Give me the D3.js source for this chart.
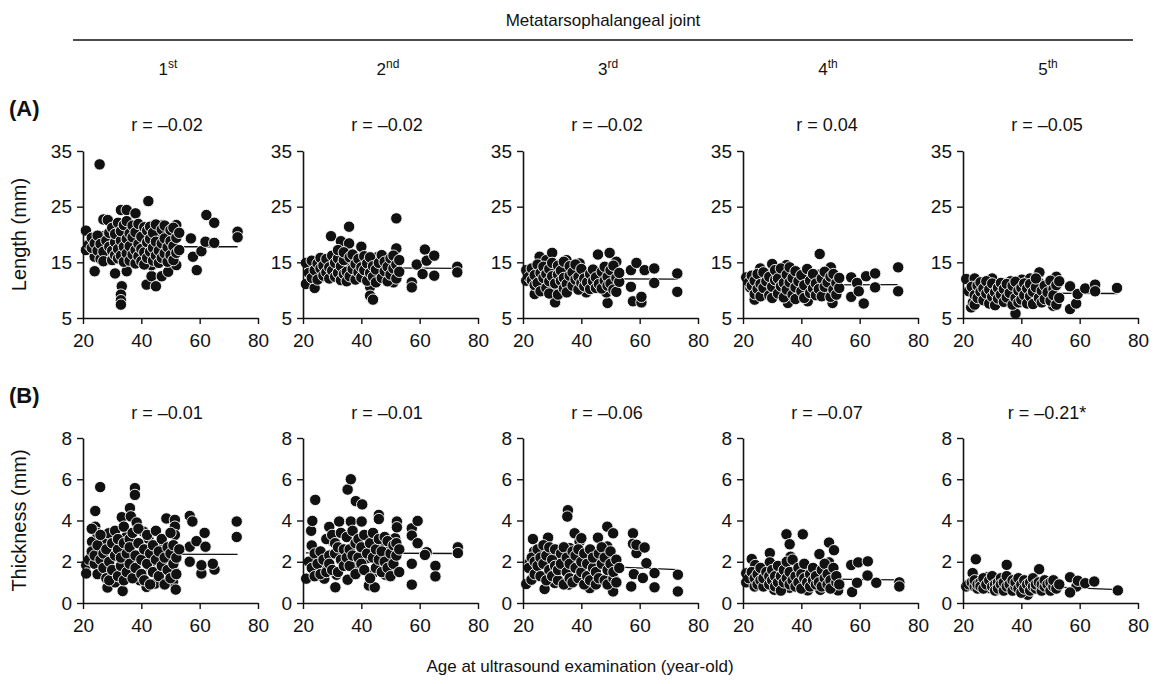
<!DOCTYPE html>
<html>
<head>
<meta charset="utf-8">
<script src="https://cdn.jsdelivr.net/npm/d3@7"></script>
<style>
  html, body { margin: 0; padding: 0; background: #fff; }
  svg { display: block; font-family: "Liberation Sans", Arial, sans-serif; }
  .axis path, .axis line { stroke: #111; }
  .axis text { fill: #111; }
</style>
</head>
<body>
<svg id="chart" width="1161" height="684"></svg>
<script>
// ---- Data: [age (years), value (mm)] per metatarsophalangeal joint ----
const lengthMTP1 = [
  [21,20.7],[21,17.2],[25.7,32.6],[24,13.4],[24,16],[27,22.7],[27,19.7],[28,17],[28.5,22.6],[31,13],
  [30.5,19],[33,24.4],[33.6,21.4],[33.3,10.7],[33,9.2],[33,8.2],[33,7.4],[35,24.4],[36,21],[35,13.4],
  [37,17.8],[38,23.8],[38.4,15.4],[40.7,20.8],[42,17.2],[42.4,26],[41.8,11],[43.5,12.5],[43.5,14.5],[45,10.7],
  [46.4,19.6],[47,12.5],[47.5,21.7],[48.6,16],[49.2,13.3],[49.8,19.6],[51.5,17.3],[52,21.7],[52,14.5],[57,19.3],
  [57.7,16],[59,13.6],[60.6,17],[62,18.7],[62.3,23.5],[65,22.1],[65,18.5],[73,20.5],[73,19.5],
  [22,18.2],[23,17.6],[23,19.4],[24,18.4],[25,17.1],[25,19.8],[26,15.6],[26,18.3],
  [27,16.9],[27,15.2],[28,18.9],[29,17.8],[29,20.3],[30,15.4],[30,17.1],[30,21.2],[31,16.3],
  [31,18.6],[31,20.1],[32,15.7],[32,17.4],[32,22.1],[33,16.2],[33,18.9],[33,20.6],[34,15.1],[34,17.8],
  [34,21.7],[35,16.6],[35,19.2],[35,22.4],[36,15.3],[36,17.9],[36,20.2],[37,16.4],[37,19.5],[37,21.6],
  [38,14.8],[38,17.2],[38,20.4],[39,16.1],[39,18.3],[39,21.9],[40,15.2],[40,17.4],[40,19.6],[41,14.6],
  [41,16.8],[41,21.3],[42,15.8],[42,18.6],[42,20.7],[43,16.9],[43,19.2],[43,21.4],[44,15.3],[44,17.6],
  [44,20.3],[45,16.2],[45,18.7],[45,21.8],[46,14.9],[46,17.1],[47,15.8],[47,18.4],[47,20.9],[48,16.6],
  [48,19.3],[48,21.6],[49,15.1],[49,17.7],[50,16.3],[50,18.8],[50,20.8],[51,15.4],[51,17.9],[51,21.2],
  [52,16.7],[52,19.4],[53,17.2],[53,20.3]
];
const lengthMTP2 = [
  [21,14.9],[21,11.1],[24,10.4],[26,12.3],[29.6,19.7],[33,18.8],[35.8,21.4],[35.8,18.4],[40,17.8],[35.8,14.4],
  [38,12.9],[43,10.6],[43,9],[44,8.3],[52,22.9],[52,17.5],[51,11.4],[57.3,11.4],[57.3,10.5],[59,14.6],
  [61.8,17.3],[62.4,15.3],[61,12.9],[65,16.2],[65,12.6],[72.9,14.2],[72.9,13.2],[45.4,15.9],[46,12.9],
  [22,13.1],[23,12.2],[23,15.3],[24,13.6],[25,11.9],[25,14.8],[26,13.9],[26,15.8],[27,12.6],
  [27,14.4],[28,13.2],[28,15.6],[29,12.1],[29,14.1],[30,13.5],[30,16.2],[31,12.4],[31,14.9],[32,13.1],
  [32,15.7],[32,17.2],[33,11.8],[33,14.3],[34,12.9],[34,15.4],[34,16.8],[35,13.3],[35,11.6],[36,12.5],
  [36,15.9],[37,13.8],[37,16.4],[38,11.9],[38,14.7],[39,13.2],[39,15.6],[40,12.3],[40,14.1],[41,13.6],
  [41,16.1],[42,11.7],[42,14.8],[43,13.1],[43,15.9],[44,12.4],[44,14.3],[45,13.7],[45,11.4],[46,14.9],
  [47,12.2],[47,16.3],[48,13.4],[48,15.1],[49,11.6],[49,14.2],[50,12.8],[50,15.7],[51,13.9],[51,16.2],
  [52,12.1],[52,14.6],[53,13.3],[53,15.4]
];
const lengthMTP3 = [
  [21.1,13.6],[21.1,11.7],[24,9.3],[25.7,16],[28,15.4],[30,16.7],[31,13],[31,10.1],[31,7.8],[34.9,15.4],
  [35.7,13],[39.4,14.8],[41.7,13.1],[41.7,9.6],[45.7,16.4],[45.7,12.8],[49,7.7],[48.6,9.6],[49.7,16.7],[50.9,12.9],
  [52,15.1],[57,13.6],[57,10.6],[58.9,14.9],[57.7,8],[60.6,7.8],[60.6,8.8],[61.7,13.6],[65,13.9],[65,11.3],
  [72.9,13],[72.9,9.7],
  [22,12.4],[23,11.8],[23,13.9],[24,10.9],[24,12.7],[25,14.6],[25,11.3],[26,13.1],[26,9.8],
  [27,12.2],[27,14.2],[28,10.4],[28,12.9],[29,11.6],[29,13.8],[29,9.4],[30,12.5],[30,14.9],[31,11.2],
  [32,12.8],[32,14.4],[32,9.2],[33,11.7],[33,13.5],[34,10.3],[34,12.2],[34,15.1],[35,11.1],[35,9.6],
  [36,12.6],[36,14.3],[37,10.8],[37,13.2],[38,11.9],[38,14.6],[39,10.1],[39,12.4],[40,11.3],[40,13.8],
  [41,10.7],[41,12.1],[42,11.4],[43,10.2],[43,12.9],[44,11.6],[44,13.7],[45,10.4],[45,12.3],[46,11.1],
  [47,10.3],[47,13.3],[48,11.7],[48,14.2],[49,12.4],[49,10.8],[50,13.6],[50,11.2],[51,10.1],[51,14.4],
  [52,12.2],[52,9.7],[53,11.5],[53,13.1]
];
const lengthMTP4 = [
  [21.1,12.3],[22.5,10.5],[24,8.3],[25.9,13.9],[28.1,12.9],[30,14.7],[28,9.8],[34.9,14.5],[35.4,7.7],[36.3,12.9],
  [36.3,9.6],[42.2,12.6],[42.2,11],[42.2,8],[46.3,16.5],[46.2,12.8],[50.1,14.1],[49.5,9.6],[50.7,7.7],[57.1,12.3],
  [57.1,8.8],[59.1,11.3],[59.7,9.8],[61.4,7.6],[62.2,12.5],[65.3,13],[65.3,10.5],[73.2,14.1],[73.2,9.8],
  [22,11.4],[23,10.8],[23,12.6],[24,9.3],[24,11.7],[25,10.2],[25,12.9],[26,8.9],[26,11.1],
  [27,10.4],[27,13.2],[28,11.6],[29,9.1],[29,12.4],[30,10.6],[30,8.6],[31,11.8],[31,13.6],[32,9.4],
  [32,12.1],[33,10.7],[33,13.9],[34,8.7],[34,11.3],[35,10.1],[35,12.8],[36,11.4],[36,14.1],[37,9.2],
  [37,12.2],[38,10.5],[38,13.4],[38,8.4],[39,11.6],[40,9.8],[40,12.7],[41,10.9],[41,8.6],[42,13.8],
  [43,9.5],[43,11.7],[44,10.3],[44,12.9],[45,9.1],[45,11.2],[46,10.2],[47,8.9],[47,12.1],[48,10.6],
  [48,13.3],[49,11.4],[50,8.8],[50,12.4],[51,10.1],[51,12.9],[52,11.3],[52,9.2],[53,10.4],[53,12.2]
];
const lengthMTP5 = [
  [21.1,12],[24,12.1],[22.8,6.9],[23.4,7.8],[27.9,10.9],[30,12.1],[29.6,8.9],[36.3,11.6],[36.3,7.8],[38,5.8],
  [40.2,11.9],[41.9,9.8],[43,12.1],[46.2,13.2],[46.2,11.3],[49.2,11.1],[49.2,8.9],[52,12.4],[50.9,7.2],[56.7,10.7],
  [56.7,6.6],[58.8,7.6],[59.3,9.3],[61.9,10.3],[65.3,11],[65.3,9.8],[72.8,10.4],
  [22,9.8],[23,10.6],[24,9.1],[24,7.4],[25,10.8],[25,8.6],[26,9.7],[26,11.4],[27,8.2],
  [27,10.3],[28,9.4],[28,11.6],[29,7.6],[29,10.1],[30,8.8],[30,11.2],[31,9.6],[31,7.3],[32,10.4],
  [32,8.5],[33,9.2],[33,11.3],[34,7.9],[34,10.2],[35,8.7],[35,11.1],[36,9.5],[37,7.4],[37,10.8],
  [38,8.6],[38,11.5],[39,9.9],[39,7.8],[40,10.4],[40,8.3],[41,9.1],[41,11.2],[42,7.6],[42,10.3],
  [43,8.9],[43,11.1],[44,9.7],[44,7.5],[45,10.5],[45,12.1],[46,8.6],[47,9.9],[47,7.8],[48,10.8],
  [48,8.4],[49,9.6],[50,11.7],[50,8.1],[51,10.2],[51,9.1],[52,7.4],[52,10.9],[53,8.6],[53,11.6]
];

const thicknessMTP1 = [
  [21.1,1.83],[21.1,1.43],[23.1,2.97],[24.2,4.46],[24.2,3.7],[25.9,5.62],[24.8,3.4],[27,2.9],[28.2,1.92],[28.4,0.75],
  [28.8,3.38],[31.6,1.5],[31,1.0],[33.3,4.16],[33.6,0.58],[34.8,3.2],[36.1,4.6],[36.4,4.2],[37.3,2.08],[37.8,5.57],
  [37.8,5.24],[38.4,3.9],[37.3,1.46],[39.5,1.1],[40.7,3.46],[41.8,0.78],[42.4,3.12],[43,1.75],[44.7,0.94],[45.8,2.73],
  [48.6,4.1],[51.5,4.03],[51.5,3.7],[51.5,3.3],[50.9,1.02],[51.8,0.65],[51.5,1.5],[56.6,4.22],[57.5,3.95],[56.6,2.73],
  [56.6,2.0],[58.9,3.0],[60.6,1.43],[61.7,3.4],[62,2.73],[60.6,1.83],[65.1,1.62],[64.5,1.9],[72.7,3.95],[72.7,3.2],
  [22,2.1],[23,2.5],[23,3.6],[24,1.9],[24,2.3],[25,1.4],[25,2.8],[26,2.1],[26,3.3],
  [27,1.7],[27,2.4],[28,1.2],[28,2.6],[29,2.0],[29,1.1],[30,2.9],[30,1.6],[31,2.3],[31,3.5],
  [32,1.3],[32,2.6],[32,3.1],[33,1.8],[33,2.2],[34,2.9],[34,1.1],[34,3.7],[35,2.4],[35,1.5],
  [36,3.1],[36,1.9],[36,2.7],[37,1.2],[37,3.4],[38,2.3],[38,1.7],[39,2.9],[39,3.6],[40,1.4],
  [40,2.1],[41,2.6],[41,1.1],[42,1.9],[42,3.3],[43,2.4],[43,0.9],[44,1.5],[44,2.8],[45,2.1],
  [45,3.5],[46,1.3],[46,2.5],[47,1.8],[47,3.1],[48,0.9],[48,2.2],[49,1.6],[49,2.7],[50,1.2],
  [50,3.4],[50,2.4],[51,1.9],[51,2.8],[52,2.2],[52,1.4],[53,2.6]
];
const thicknessMTP2 = [
  [21.1,1.18],[22.8,3.5],[23.2,3.98],[24.2,5.0],[23,2.79],[23.4,1.6],[27.3,1.18],[28.1,1.82],[29,3.69],[30.2,2.98],
  [31.1,0.76],[31.5,1.37],[32.4,3.95],[35.3,5.5],[36.4,6.0],[35.3,1.13],[36.4,3.95],[38.1,4.94],[40.3,4.78],[40.1,3.95],
  [38.6,1.85],[42,2.17],[42.6,0.85],[44,1.45],[44.6,0.76],[46,4.27],[46,4.07],[46.2,2.9],[48.2,1.37],[49.2,2.5],
  [50.3,1.6],[51.6,3.14],[52.2,3.95],[52.2,3.67],[57.3,3.62],[57.3,3.27],[57.3,1.9],[57.3,0.89],[59.3,3.98],[59.3,2.9],
  [62.4,2.46],[61.8,2.33],[65.4,1.8],[65.4,1.29],[73.1,2.7],[73.1,2.42],
  [22,2.0],[23,1.7],[24,2.4],[24,1.3],[25,1.9],[26,2.5],[26,1.4],[27,2.1],[28,3.1],[28,1.5],
  [29,2.3],[29,1.9],[30,3.3],[30,1.6],[31,2.4],[31,2.9],[32,1.5],[32,2.7],[33,2.1],[33,3.4],
  [34,1.8],[34,2.6],[35,3.2],[35,2.2],[36,2.6],[36,1.8],[37,3.5],[37,2.3],[38,2.9],[38,1.4],
  [39,3.1],[39,2.2],[40,1.9],[40,2.7],[41,3.3],[41,1.6],[42,2.4],[43,1.2],[43,2.9],[44,2.2],
  [44,3.4],[45,1.7],[45,2.6],[46,2.1],[46,3.1],[47,1.5],[47,2.5],[48,3.2],[48,2.0],[49,1.7],
  [49,3.0],[50,2.4],[50,1.3],[51,2.8],[51,1.9],[52,2.3],[52,2.9],[53,2.6],[53,1.5]
];
const thicknessMTP3 = [
  [21.1,0.92],[22.3,1.96],[23.4,3.1],[23.8,2.5],[22.9,1.13],[27.4,0.68],[28.6,3.17],[30.9,0.97],[32,2.33],[35.4,4.5],
  [35.2,4.19],[36,2.66],[35.7,0.89],[37.7,3.38],[39.4,2.98],[40,3.14],[41.7,1.45],[42.9,0.72],[45.7,3.17],[48.9,3.7],
  [48.9,2.74],[50.9,3.38],[50,0.89],[50.9,0.56],[52,1.88],[57.7,3.38],[57.7,2.87],[57.1,0.8],[58.9,2.42],[58.9,2.82],
  [58,1.4],[61.7,2.69],[61.1,1.21],[62.3,1.93],[65.1,1.45],[65.1,0.76],[73.1,1.37],[73.1,0.56],
  [22,1.7],[23,2.2],[24,1.4],[24,2.0],[25,1.8],[25,2.6],[26,1.3],[26,2.2],[27,1.9],[27,2.8],
  [28,1.1],[28,2.3],[29,1.6],[29,2.7],[30,2.1],[30,1.3],[31,1.8],[31,2.6],[32,1.1],[32,1.6],
  [33,2.4],[33,1.9],[34,0.9],[34,2.7],[35,1.5],[35,2.2],[36,1.2],[36,1.9],[37,2.5],[37,1.0],
  [38,1.7],[38,2.3],[39,1.2],[39,2.6],[40,1.5],[40,2.0],[41,0.9],[41,2.4],[42,1.3],[42,1.9],
  [43,2.6],[43,1.1],[44,1.7],[44,2.2],[45,0.9],[45,1.5],[46,2.4],[46,1.2],[47,1.9],[47,2.7],
  [48,1.1],[48,2.2],[49,1.6],[49,0.9],[50,1.9],[50,2.5],[51,1.2],[51,1.5],[52,2.1],[52,1.0],[53,1.7]
];
const thicknessMTP4 = [
  [21.1,1.44],[21.1,1.0],[23,2.13],[24.2,1.84],[27,1.41],[29.2,2.42],[29.2,1.97],[28.1,1.0],[30.7,0.64],[34.9,3.33],
  [36,2.85],[36.3,2.24],[36,0.74],[37.7,1.41],[40.5,3.33],[42.2,1.65],[42.2,0.61],[46.2,2.37],[46.5,0.64],[46.5,1.36],
  [49.5,2.93],[51.2,2.56],[51.2,1.25],[49.5,1.97],[52.6,0.61],[57.1,1.84],[57.4,0.53],[59.5,1.97],[59.1,0.98],[62.8,2.02],
  [62.7,1.33],[65.7,0.98],[73.6,1.0],[73.6,0.8],
  [22,1.2],[23,1.5],[24,0.8],[24,1.2],[25,1.4],[25,0.9],[26,1.1],[26,1.7],[27,0.8],
  [27,1.2],[28,1.5],[29,0.9],[29,1.3],[30,1.1],[30,1.6],[31,0.8],[31,1.3],[32,1.0],[32,1.8],
  [33,1.3],[33,0.6],[34,1.0],[34,1.6],[35,2.0],[35,1.2],[36,0.9],[36,1.5],[37,1.1],[37,2.1],
  [38,0.8],[38,1.3],[39,1.7],[39,1.0],[40,1.4],[40,0.7],[41,1.2],[41,1.9],[42,1.0],[43,1.4],
  [43,0.8],[44,1.1],[44,1.7],[45,0.9],[45,1.3],[46,1.0],[47,1.6],[47,0.8],[48,1.2],[48,1.9],
  [49,0.9],[49,1.4],[50,1.1],[50,0.7],[51,1.7],[52,1.0],[52,1.3],[53,0.9]
];
const thicknessMTP5 = [
  [21.1,0.8],[23.3,1.45],[24.4,2.12],[28.3,1.25],[28.9,0.72],[35,1.85],[36.1,1.12],[36.1,0.77],[42.2,0.4],[42.6,0.8],
  [46.1,1.64],[48.9,0.72],[56.7,1.25],[58.9,0.8],[59.4,1.08],[56.7,0.51],[61.9,0.96],[65,1.04],[73.1,0.61],
  [22,0.9],[23,1.0],[24,0.8],[24,1.1],[25,0.7],[25,0.9],[26,1.0],[26,0.8],[27,1.2],[27,0.7],
  [28,0.9],[29,1.1],[30,0.8],[30,1.3],[31,0.9],[31,0.6],[32,1.0],[32,0.7],[33,1.2],[33,0.9],
  [34,0.6],[34,1.0],[35,0.8],[35,1.3],[36,0.9],[37,1.1],[37,0.6],[38,0.8],[38,1.0],[39,0.7],
  [39,1.2],[40,0.9],[40,0.5],[41,1.1],[41,0.7],[42,0.9],[43,0.6],[43,1.0],[44,0.8],[44,1.2],
  [45,0.7],[45,0.9],[46,1.0],[47,0.6],[47,0.9],[48,0.8],[48,1.1],[49,0.9],[50,0.6],[50,1.0],
  [51,0.8],[51,1.1],[52,0.7],[53,0.9]
];

// Fitted regression lines: value at the youngest and oldest age
const fitAges = [21, 73];
const fitLength = [[17.8,17.8],[14.1,13.9],[12.1,12.0],[10.9,11.0],[9.5,9.4]];
const fitThickness = [[2.37,2.36],[2.43,2.40],[1.93,1.62],[1.20,1.12],[0.96,0.65]];

// Correlation labels
const rLength = ["r = \u20130.02","r = \u20130.02","r = \u20130.02","r = 0.04","r = \u20130.05"];
const rThickness = ["r = \u20130.01","r = \u20130.01","r = \u20130.06","r = \u20130.07","r = \u20130.21*"];

// Column headers (joint number + ordinal suffix)
const joints = [["1","st"],["2","nd"],["3","rd"],["4","th"],["5","th"]];

// Axis ticks
const ageTicks = [20, 40, 60, 80];
const lengthTicks = [5, 15, 25, 35];
const thicknessTicks = [0, 2, 4, 6, 8];

// ---- Layout ----
const svg = d3.select("#chart");
const ink = "#111";
const panelLeft = i => 83 + i * 220;
const panelWidth = 175;

const rows = [
  { series: [lengthMTP1, lengthMTP2, lengthMTP3, lengthMTP4, lengthMTP5], fits: fitLength, rs: rLength,
    domain: [5, 35], ticks: lengthTicks, top: 151, bottom: 318, title: "Length (mm)", tag: "(A)", tagY: 116, rY: 131 },
  { series: [thicknessMTP1, thicknessMTP2, thicknessMTP3, thicknessMTP4, thicknessMTP5], fits: fitThickness, rs: rThickness,
    domain: [0, 8], ticks: thicknessTicks, top: 438, bottom: 603, title: "Thickness (mm)", tag: "(B)", tagY: 403, rY: 419 }
];

// Header
svg.append("text").attr("x", 603).attr("y", 26).attr("text-anchor", "middle")
  .attr("font-size", 17).attr("fill", ink).text("Metatarsophalangeal joint");
svg.append("line").attr("x1", 73).attr("x2", 1133).attr("y1", 40).attr("y2", 40)
  .attr("stroke", ink).attr("stroke-width", 1.5);

joints.forEach((j, i) => {
  const t = svg.append("text").attr("x", panelLeft(i) + 85).attr("y", 75)
    .attr("text-anchor", "middle").attr("font-size", 17).attr("fill", ink);
  t.append("tspan").text(j[0]);
  t.append("tspan").attr("font-size", 12).attr("dy", -7).text(j[1]);
});

rows.forEach(row => {
  const y = d3.scaleLinear().domain(row.domain).range([row.bottom, row.top]);

  svg.append("text").attr("x", 9).attr("y", row.tagY).attr("font-size", 22)
    .attr("font-weight", "bold").attr("fill", ink).text(row.tag);

  svg.append("text")
    .attr("transform", `translate(26,${(row.top + row.bottom) / 2}) rotate(-90)`)
    .attr("text-anchor", "middle").attr("font-size", 20).attr("fill", ink).text(row.title);

  row.series.forEach((pts, i) => {
    const x0 = panelLeft(i);
    const x = d3.scaleLinear().domain([20, 80]).range([x0, x0 + panelWidth]);
    const g = svg.append("g");

    // regression line sits beneath the markers
    g.append("line")
      .attr("x1", x(fitAges[0])).attr("x2", x(fitAges[1]))
      .attr("y1", y(row.fits[i][0])).attr("y2", y(row.fits[i][1]))
      .attr("stroke", ink).attr("stroke-width", 1.3);

    g.selectAll("circle").data(pts).join("circle")
      .attr("cx", d => x(d[0])).attr("cy", d => y(d[1]))
      .attr("r", 5.7).attr("fill", ink).attr("stroke", "#fff").attr("stroke-width", 0.9);

    const yAxis = g.append("g").attr("class", "axis")
      .attr("transform", `translate(${x0},0)`)
      .call(d3.axisLeft(y).tickValues(row.ticks).tickSize(6).tickSizeOuter(0).tickPadding(5));
    const xAxis = g.append("g").attr("class", "axis")
      .attr("transform", `translate(0,${row.bottom})`)
      .call(d3.axisBottom(x).tickValues(ageTicks).tickSize(6).tickSizeOuter(0).tickPadding(10));
    [yAxis, xAxis].forEach(a => {
      a.select(".domain").attr("stroke-width", 1.6);
      a.selectAll(".tick line").attr("stroke-width", 1.4);
      a.selectAll("text").attr("font-size", 19).attr("font-family", "Liberation Sans, Arial, sans-serif");
    });

    svg.append("text").attr("x", x0 + 84).attr("y", row.rY).attr("text-anchor", "middle")
      .attr("font-size", 18).attr("fill", ink).text(row.rs[i]);
  });
});

svg.append("text").attr("x", 580).attr("y", 672).attr("text-anchor", "middle")
  .attr("font-size", 17).attr("fill", ink).text("Age at ultrasound examination (year-old)");
</script>
</body>
</html>
